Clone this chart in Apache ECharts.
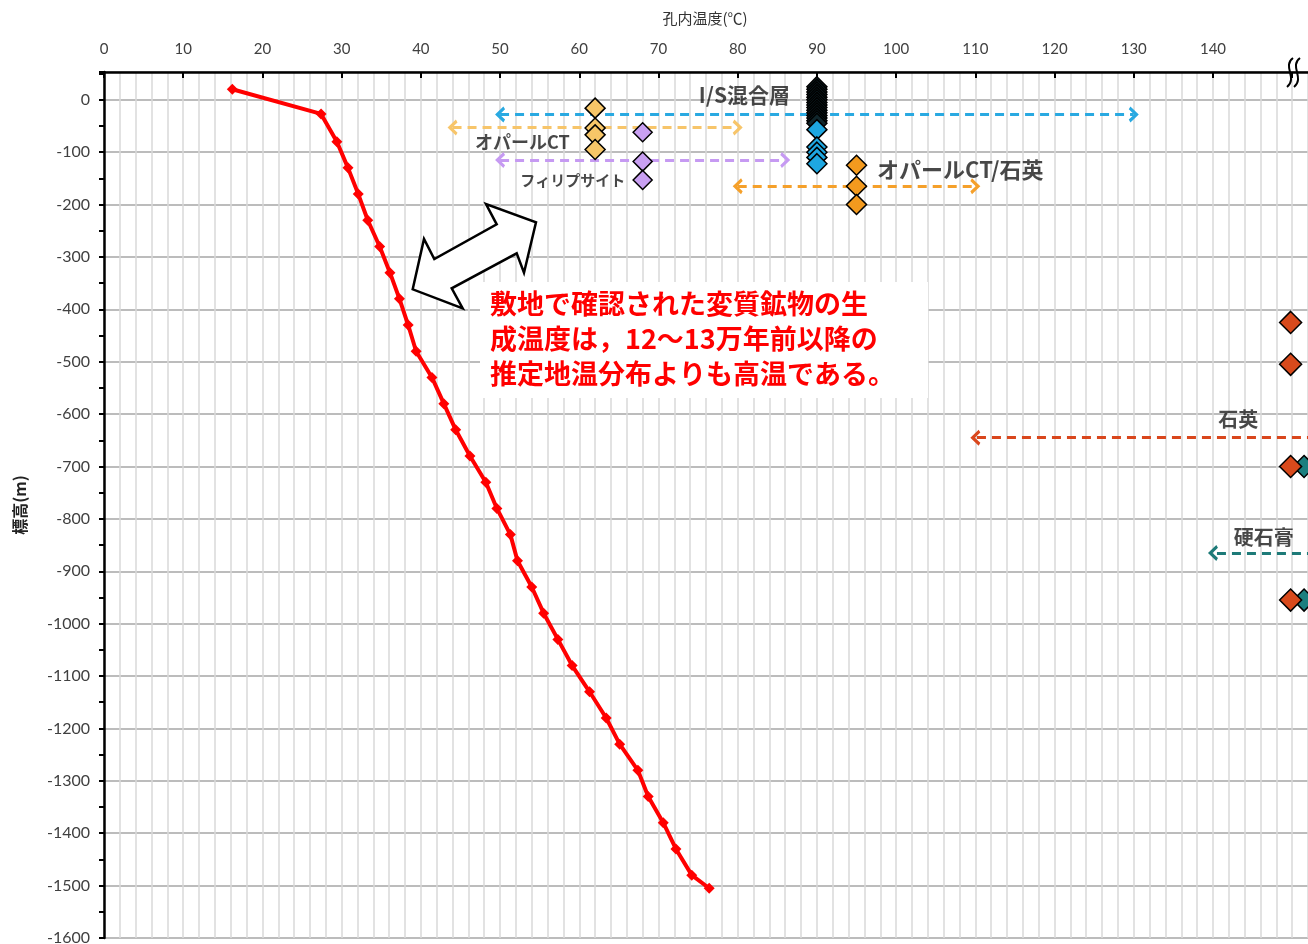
<!DOCTYPE html>
<html><head><meta charset="utf-8">
<script src="https://cdn.jsdelivr.net/npm/echarts@6/dist/echarts.min.js"></script>
<style>html,body{margin:0;padding:0;background:#fff;overflow:hidden}#c{width:1308px;height:944px}</style>
</head><body><div id="c"></div>
<script>
// ---- data ----
const profileTemp = [16.2, 27.4, 29.4, 30.8, 32.1, 33.3, 34.8, 36.1, 37.3, 38.4, 39.4, 41.4, 42.9, 44.4, 46.2, 48.2, 49.6, 51.3, 52.2, 54.0, 55.5, 57.3, 59.1, 61.3, 63.4, 65.1, 67.4, 68.7, 70.6, 72.2, 74.2, 76.4];
const profileElev = [20, -27, -80, -130, -180, -230, -280, -330, -380, -430, -480, -530, -580, -630, -680, -730, -780, -830, -880, -930, -980, -1030, -1080, -1130, -1180, -1230, -1280, -1330, -1380, -1430, -1480, -1505];

const opalCTTemp = 62;      const opalCTElev = [-16, -54, -67, -95];
const phillTemp = 68;       const phillElev = [-62, -118, -153];
const isTemp = 90;          const isDarkElev = [25, 20, 15, 10, 5, 0, -5, -10, -15, -20, -25, -30, -35, -40, -45];
const isBlueElev = [-57, -90, -100, -110, -122];
const opalQzTemp = 95;      const opalQzElev = [-125, -165, -200];
const quartzTemp = 149.8;   const quartzElev = [-425, -505, -700, -955];
const anhydTemp = 151.5;    const anhydElev = [-700, -955];

// temperature ranges (dashed arrows): from, to, elevation
const rangeFrom = [50, 44, 50, 80, 153, 153];
const rangeTo   = [130, 80, 86, 110, 110, 140];
const rangeElev = [-28, -53, -115, -165, -645, -865];
const rangeBoth = [true, true, true, true, false, false];

const noteText = ['I/S混合層', 'オパールCT', 'フィリプサイト', 'オパールCT/石英', '石英', '硬石膏'];
const noteTemp = [86.6, 58.8, 65.8, 97.6, 143.2, 146.4];
const noteElev = [10, -80, -153, -134, -611, -836];

const xTickMax = 140;
const calloutLines = ['敷地で確認された変質鉱物の生', '成温度は，12～13万年前以降の', '推定地温分布よりも高温である。'];

// ---- styles ----
const rangeColors = ['#29a9e1', '#f7c56a', '#c69af2', '#f5a02a', '#d9461c', '#1d7a78'];
const noteAnchor = ['left', 'left', 'left', 'right', 'inside', 'inside'];
const noteSize = [21, 18, 15, 22, 20, 20];
const chev = 'path://M5,0 L10,8 L8.2,9.6 L5,4.4 L1.8,9.6 L0,8 Z';
const CJK = '"Noto Sans CJK JP"';

const chart = echarts.init(document.getElementById('c'));

function diamonds(name, temp, elevs, color, size, z) {
  return {
    name, type: 'scatter', z: z || 6, clip: false,
    data: elevs.map(e => [temp, e]),
    symbol: 'diamond', symbolSize: size,
    itemStyle: { color, borderColor: '#000', borderWidth: 1.5, opacity: 1 },
    silent: true
  };
}

const series = [];
series.push({
  name: 'profile', type: 'line', z: 5,
  data: profileTemp.map((t, i) => [t, profileElev[i]]),
  symbol: 'diamond', symbolSize: 11, showAllSymbol: true,
  lineStyle: { color: '#ff0000', width: 4 },
  itemStyle: { color: '#ff0000' }, silent: true
});
rangeFrom.forEach((f, i) => {
  series.push({
    type: 'line', data: [], z: 3, silent: true,
    markLine: {
      silent: true, animation: false,
      symbol: [rangeBoth[i] ? chev : 'none', chev],
      symbolSize: [16, 10],
      label: { show: false },
      lineStyle: { color: rangeColors[i], width: 3, type: [9, 6], opacity: 1 },
      data: [[{ coord: [f, rangeElev[i]] }, { coord: [rangeTo[i], rangeElev[i]] }]]
    }
  });
});
series.push(diamonds('opalCT', opalCTTemp, opalCTElev, '#f7c668', 20));
series.push(diamonds('phill', phillTemp, phillElev, '#c9a0f2', 19));
series.push(diamonds('isDark', isTemp, isDarkElev, '#10262c', 20));
series.push(diamonds('isBlue', isTemp, isBlueElev, '#1ea7e1', 20, 7));
series.push(diamonds('opalQz', opalQzTemp, opalQzElev, '#f39a1e', 20));
series.push(diamonds('quartz', quartzTemp, quartzElev, '#d84a1c', 22));
series.push(diamonds('anhyd', anhydTemp, anhydElev, '#1b7f7f', 22, 5));
series.push({
  type: 'scatter', z: 8, silent: true, symbolSize: 0,
  data: noteText.map((t, i) => ({
    value: [noteTemp[i], noteElev[i]],
    label: {
      show: true, formatter: t, position: noteAnchor[i], distance: 0,
      fontFamily: CJK, fontWeight: 'bold', fontSize: noteSize[i], color: '#1a1a1a'
    }
  }))
});

const option = {
  animation: false,
  backgroundColor: '#fff',
  grid: { left: 104, right: -63.4, top: 72, bottom: 6, outerBoundsMode: 'none', containLabel: false },
  xAxis: {
    type: 'value', position: 'top', min: 0, max: 160, interval: 10,
    name: '',
    axisLine: { show: true, onZero: false, lineStyle: { color: '#000', width: 2.5 } },
    axisTick: { show: true, inside: true, length: 6, lineStyle: { color: '#000', width: 2 } },
    axisLabel: { fontFamily: 'Lato', fontSize: 15, color: '#404040', margin: 15,
      formatter: v => (v > xTickMax ? '' : String(v)) },
    splitLine: { show: true, lineStyle: { color: '#d9d9d9', width: 1.5 } },
    minorTick: { show: false, splitNumber: 5 },
    minorSplitLine: { show: true, lineStyle: { color: '#d9d9d9', width: 1.5 } }
  },
  yAxis: {
    type: 'value', min: -1600, max: 53, interval: 100,
    name: '標高(m)', nameLocation: 'middle', nameGap: 76,
    nameTextStyle: { fontFamily: CJK, fontWeight: 'bold', fontSize: 16, color: '#222' },
    axisLine: { show: true, onZero: false, lineStyle: { color: '#000', width: 2.5 } },
    axisTick: { show: true, length: 5, lineStyle: { color: '#000', width: 2 } },
    minorTick: { show: true, splitNumber: 2, length: 5, lineStyle: { color: '#000', width: 2 } },
    axisLabel: { fontFamily: 'Lato', fontSize: 16, color: '#404040', margin: 14, showMaxLabel: false,
      formatter: v => String(v) },
    splitLine: { show: true, lineStyle: { color: '#a6a6a6', width: 1.5 } }
  },
  series,
  graphic: [
    // x-axis name, centred over the visible part of the axis (the axis extends past the canvas)
    { type: 'text', z: 101, x: 705, y: 18,
      style: { text: '孔内温度(℃)', fill: '#333', fontFamily: 'Noto Sans CJK JP', fontSize: 15,
        align: 'center', verticalAlign: 'middle' } },
    { type: 'rect', z: 100, shape: { x: 480, y: 282, width: 448, height: 116 }, style: { fill: '#fff' } },
    { type: 'text', z: 101, x: 490, y: 286,
      style: { text: calloutLines.join('\n'), fill: '#ff0000', fontFamily: 'Noto Sans CJK JP',
        fontWeight: 'bold', fontSize: 27, lineHeight: 35, verticalAlign: 'top' } },
    { type: 'polygon', z: 100,
      shape: { points: [[412.7, 289.3], [424, 239], [434.3, 259], [496.7, 224.3], [486, 204], [536, 222.3], [524, 272.7], [516.7, 253.3], [451.7, 288.3], [462.7, 308.3]] },
      style: { fill: '#fff', stroke: '#000', lineWidth: 2.5, lineJoin: 'miter' } },
    { type: 'bezierCurve', z: 100,
      shape: { x1: 1293, y1: 58, cpx1: 1282, cpy1: 66, cpx2: 1298, cpy2: 78, x2: 1287, y2: 87 },
      style: { stroke: '#000', lineWidth: 2, fill: null } },
    { type: 'bezierCurve', z: 100,
      shape: { x1: 1300, y1: 58, cpx1: 1289, cpy1: 66, cpx2: 1305, cpy2: 78, x2: 1294, y2: 87 },
      style: { stroke: '#000', lineWidth: 2, fill: null } }
  ]
};
chart.setOption(option);
</script>
</body></html>
